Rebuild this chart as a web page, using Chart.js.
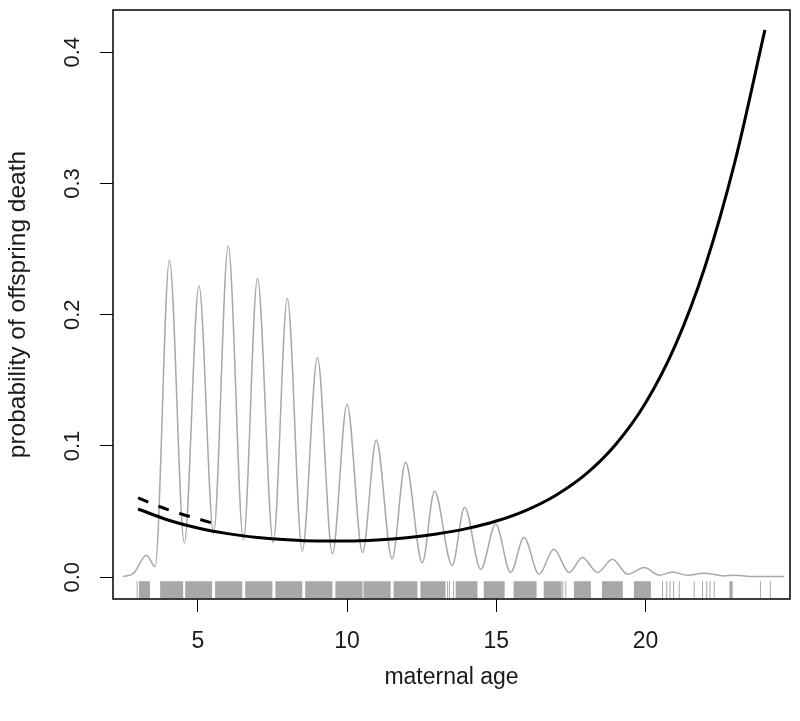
<!DOCTYPE html>
<html>
<head>
<meta charset="utf-8">
<script src="https://cdn.jsdelivr.net/npm/chart.js@4.4.1/dist/chart.umd.min.js"></script>
<style>
  html, body { margin: 0; padding: 0; background: #fff; }
  canvas { display: block; }
</style>
</head>
<body>
<canvas id="ageChart" width="800" height="721"></canvas>
<script>
// axis ticks
const xTicks = [5, 10, 15, 20];
const yTicks = [0.0, 0.1, 0.2, 0.3, 0.4];

// fitted probability of offspring death (solid black)
const fitAge  = [3, 4, 5, 6, 7, 8, 9, 10, 11, 12, 13, 14, 15, 16, 17, 18, 19, 20, 21, 22, 23, 24];
const fitProb = [0.052, 0.0436, 0.0375, 0.0332, 0.0303, 0.0285, 0.0276, 0.0276, 0.0284, 0.0301,
                 0.0329, 0.037, 0.0428, 0.051, 0.0625, 0.0785, 0.1011, 0.1327, 0.1768, 0.2372,
                 0.3171, 0.417];

// dashed curve for the youngest mothers
const earlyAge  = [3.0, 3.5, 4.0, 4.5, 5.0, 5.6];
const earlyProb = [0.0605, 0.0558, 0.0515, 0.0478, 0.0445, 0.0405];

// grey density of maternal ages (peaks and troughs)
const densAge = [2.5, 2.85, 3.28, 3.57, 4.05, 4.55, 5.04, 5.53, 6.02, 6.53, 7.0, 7.53, 8.0, 8.5,
                 9.01, 9.51, 10.0, 10.52, 10.98, 11.51, 11.96, 12.52, 12.93, 13.52, 13.94, 14.48,
                 14.98, 15.48, 15.93, 16.43, 16.93, 17.44, 17.89, 18.39, 18.89, 19.4, 19.96, 20.46,
                 20.9, 21.41, 21.97, 22.64, 22.97, 23.5, 24.65];
const densVal = [0.0005, 0.003, 0.0168, 0.008, 0.2418, 0.0262, 0.222, 0.0334, 0.2524, 0.0287,
                 0.2276, 0.0265, 0.2123, 0.02, 0.1674, 0.0178, 0.1318, 0.0188, 0.1046, 0.014,
                 0.0876, 0.011, 0.0655, 0.009, 0.0533, 0.006, 0.0404, 0.0036, 0.0302, 0.0023,
                 0.0213, 0.0036, 0.015, 0.0036, 0.0137, 0.0023, 0.0074, 0.0015, 0.004, 0.0015,
                 0.003, 0.001, 0.0015, 0.0006, 0.0005];

// rug of observed ages: dense runs and single ticks
const rugRuns = [[3.03, 3.40], [3.74, 4.51], [4.58, 5.48], [5.58, 6.49], [6.59, 7.50], [7.60, 8.50],
                 [8.60, 9.51], [9.61, 10.52], [10.55, 11.46], [11.56, 12.36], [12.46, 13.30],
                 [13.64, 14.37], [14.58, 15.28], [15.58, 16.35], [16.59, 17.19], [17.60, 18.17],
                 [18.54, 19.24], [19.61, 20.18], [22.81, 22.92]];
const rugSingles = [2.97, 13.23, 13.37, 13.43, 13.57, 17.23, 17.33, 20.57, 20.71, 20.82, 20.94,
                    21.13, 21.63, 21.91, 22.05, 22.16, 22.30, 23.85, 24.18];

const rugLevel = -0.0095;
const family = '"Liberation Sans", Arial, sans-serif';
const xFont = { family: family, size: 23 };
const yTitleFont = { family: family, size: 24.5 };
const yTickSize = 22;
const ink = '#1a1a1a';
const grey = '#a8a8a8';

const pts = (xs, ys) => xs.map((x, i) => ({ x: x, y: ys[i] }));

const runPts = [];
rugRuns.forEach(r => {
  runPts.push({ x: r[0], y: rugLevel }, { x: r[1], y: rugLevel }, { x: r[1], y: null });
});

// box round the plot and rotated y tick labels, as R draws them
const rFrame = {
  id: 'rFrame',
  afterDraw(chart) {
    const { ctx, chartArea: a, scales: { y } } = chart;
    ctx.save();
    ctx.strokeStyle = '#000';
    ctx.lineWidth = 1.5;
    ctx.strokeRect(a.left, a.top, a.right - a.left, a.bottom - a.top);
    ctx.fillStyle = ink;
    ctx.font = yTickSize + 'px ' + family;
    ctx.textAlign = 'center';
    ctx.textBaseline = 'middle';
    yTicks.forEach(v => {
      ctx.save();
      ctx.translate(73, y.getPixelForValue(v));
      ctx.rotate(-Math.PI / 2);
      ctx.fillText(v.toFixed(1), 0, 0);
      ctx.restore();
    });
    ctx.restore();
  }
};

new Chart(document.getElementById('ageChart'), {
  type: 'line',
  data: {
    datasets: [
      {
        data: pts(fitAge, fitProb),
        borderColor: '#000', borderWidth: 3,
        pointRadius: 0, cubicInterpolationMode: 'monotone'
      },
      {
        data: pts(earlyAge, earlyProb),
        borderColor: '#000', borderWidth: 3, borderDash: [11, 11],
        pointRadius: 0, cubicInterpolationMode: 'monotone'
      },
      {
        data: pts(densAge, densVal),
        borderColor: grey, borderWidth: 1.5,
        pointRadius: 0, cubicInterpolationMode: 'monotone'
      },
      {
        data: rugSingles.map(x => ({ x: x, y: rugLevel })),
        showLine: false, pointStyle: 'line', rotation: 90,
        pointRadius: 8.5, borderWidth: 1, borderColor: grey
      },
      {
        data: runPts,
        borderColor: grey, borderWidth: 17, borderCapStyle: 'butt',
        pointRadius: 0, spanGaps: false
      }
    ]
  },
  options: {
    responsive: false,
    animation: false,
    devicePixelRatio: 1,
    layout: { padding: { top: 10, right: 10, left: 0, bottom: 0 } },
    plugins: { legend: { display: false }, tooltip: { enabled: false } },
    scales: {
      x: {
        type: 'linear', min: 2.16, max: 24.84,
        afterBuildTicks: s => { s.ticks = xTicks.map(v => ({ value: v })); },
        afterFit: s => { s.height = 122; },
        ticks: { font: xFont, color: ink, padding: 16, maxRotation: 0 },
        grid: { drawOnChartArea: false, tickLength: 13, color: '#000' },
        border: { display: false },
        title: { display: true, text: 'maternal age', font: xFont, color: ink, padding: { top: 0, bottom: 30 } }
      },
      y: {
        type: 'linear', min: -0.0166, max: 0.4322,
        afterBuildTicks: s => { s.ticks = yTicks.map(v => ({ value: v })); },
        afterFit: s => { s.width = 113; },
        ticks: { display: false },
        grid: { drawOnChartArea: false, tickLength: 13, color: '#000' },
        border: { display: false },
        title: { display: true, text: 'probability of offspring death', font: yTitleFont, color: ink, padding: { top: 4, bottom: 0 } }
      }
    }
  },
  plugins: [rFrame]
});
</script>
</body>
</html>
